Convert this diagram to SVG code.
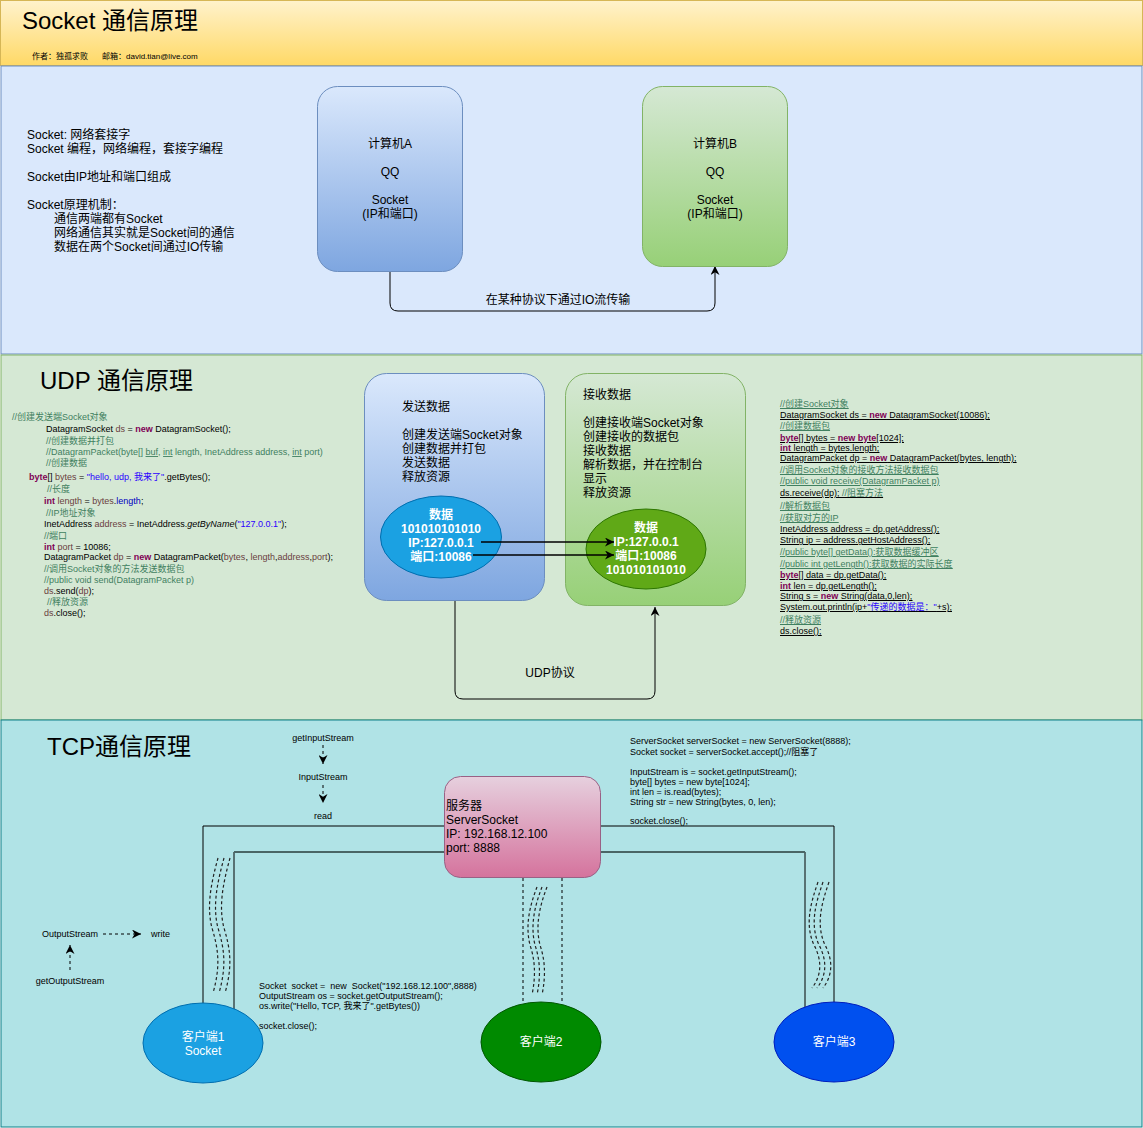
<svg xmlns="http://www.w3.org/2000/svg" width="1143" height="1128" viewBox="0 0 1143 1128">
<style>
text{font-family:"Liberation Sans","Noto Sans CJK SC",sans-serif;fill:#000}
.t12{font-size:12px}
.t9{font-size:9px}
.t8{font-size:8px}
.mid{text-anchor:middle}
.w{fill:#fff}
.b{font-weight:bold}
.c{fill:#3f7f5f}
.k{fill:#7f0055;font-weight:bold}
.s{fill:#2a00ff}
.v{fill:#6a3e3e}
.f{fill:#0000c0}
.u{text-decoration:underline}
.ln{fill:none;stroke:#000;stroke-width:1}
.dash{fill:none;stroke:#000;stroke-width:1;stroke-dasharray:3 3}
.wave{fill:none;stroke:#222;stroke-width:1.2;stroke-dasharray:3 2.5}
</style>
<defs>
<linearGradient id="gHead" x1="0" y1="0" x2="0" y2="1"><stop offset="0" stop-color="#fff2cc"/><stop offset="1" stop-color="#ffd966"/></linearGradient>
<linearGradient id="gBlue" x1="0" y1="0" x2="0" y2="1"><stop offset="0" stop-color="#dae8fc"/><stop offset="1" stop-color="#7ea6e0"/></linearGradient>
<linearGradient id="gGreen" x1="0" y1="0" x2="0" y2="1"><stop offset="0" stop-color="#d5e8d4"/><stop offset="1" stop-color="#97d077"/></linearGradient>
<linearGradient id="gPink" x1="0" y1="0" x2="0" y2="1"><stop offset="0" stop-color="#e6d0de"/><stop offset="1" stop-color="#d5739d"/></linearGradient>
<marker id="arr" viewBox="0 0 10 10" refX="10" refY="5" markerWidth="9" markerHeight="9" markerUnits="userSpaceOnUse" orient="auto"><path d="M0,0 L10,5 L0,10 L3,5 z" fill="#000"/></marker>
</defs>

<!-- sections -->
<g id="header">
<rect x="0.5" y="0.5" width="1142" height="65" fill="url(#gHead)" stroke="#d6b656"/>
<text x="22" y="29" style="font-size:24px">Socket 通信原理</text>
<text x="32" y="59" class="t8">作者：独孤求败</text>
<text x="102" y="59" class="t8">邮箱：david.tian@live.com</text>
</g>
<g id="sec-socket">
<rect x="1" y="66" width="1141" height="288" fill="#dae8fc" stroke="#6c8ebf"/>
<text class="t12" x="27" y="139">Socket: 网络套接字</text>
<text class="t12" x="27" y="153">Socket 编程，网络编程，套接字编程</text>
<text class="t12" x="27" y="181">Socket由IP地址和端口组成</text>
<text class="t12" x="27" y="209">Socket原理机制：</text>
<text class="t12" x="54" y="223">通信两端都有Socket</text>
<text class="t12" x="54" y="237">网络通信其实就是Socket间的通信</text>
<text class="t12" x="54" y="251">数据在两个Socket间通过IO传输</text>
</g>
<g id="sec-udp">
<rect x="1" y="355" width="1141" height="365" fill="#d5e8d4" stroke="#82b366"/>
<text x="40" y="389" style="font-size:24px">UDP 通信原理</text>
</g>
<g id="sec-tcp">
<rect x="1" y="720" width="1141" height="407" fill="#b0e3e6" stroke="#0e8088"/>
<text x="47" y="755" style="font-size:24px">TCP通信原理</text>
</g>

<!-- connectors -->
<g id="connectors">
<path class="ln" d="M390,271 V303 Q390,311 398,311 H707 Q715,311 715,303 V266" marker-end="url(#arr)"/>
<text class="t12 mid" x="558" y="304">在某种协议下通过IO流传输</text>
<path class="ln" d="M455,601 V691 Q455,699 463,699 H647 Q655,699 655,691 V607" marker-end="url(#arr)"/>
<text class="t12 mid" x="550" y="677">UDP协议</text>
<path class="dash" d="M323,745 V764" marker-end="url(#arr)"/>
<path class="dash" d="M323,785 V803" marker-end="url(#arr)"/>
<path class="dash" d="M103,934 H141" marker-end="url(#arr)"/>
<path class="dash" d="M70,970 V945" marker-end="url(#arr)"/>
<path class="ln" d="M203,1012 V826 H834 V1010"/>
<path class="ln" d="M234,1015 V852"/>
<path class="ln" d="M805,1015 V852"/>
<path d="M234,852 H805" fill="none" stroke="#4a6666" stroke-width="1.8"/>
<path class="dash" d="M523,878 V1003"/>
<path class="dash" d="M562,878 V1003"/>
<g id="waves">
<path class="wave" d="M218,858 C212,880 206,905 212,928 C218,948 221,965 213,993"/>
<path class="wave" d="M224,858 C218,880 212,905 218,928 C224,948 227,965 219,993"/>
<path class="wave" d="M230,858 C224,880 218,905 224,928 C230,948 233,965 225,993"/>
<path class="wave" d="M537,887 C530,905 525,925 530,945 C535,960 536,975 532,995"/>
<path class="wave" d="M542,887 C535,905 530,925 535,945 C540,960 541,975 537,995"/>
<path class="wave" d="M547,887 C540,905 535,925 540,945 C545,960 546,975 542,995"/>
<path class="wave" d="M818,882 C810,905 805,925 814,945 C822,960 822,975 812,988"/>
<path class="wave" d="M823,882 C815,905 810,925 819,945 C827,960 827,975 817,988"/>
<path class="wave" d="M829,882 C821,905 816,925 825,945 C833,960 833,975 823,988"/>
</g>
</g>

<!-- Section 1 nodes -->
<g id="computerA">
<rect x="317.5" y="86.5" width="145" height="185" rx="20" fill="url(#gBlue)" stroke="#6c8ebf"/>
<text class="t12 mid" x="390" y="148">计算机A</text>
<text class="t12 mid" x="390" y="176">QQ</text>
<text class="t12 mid" x="390" y="204">Socket</text>
<text class="t12 mid" x="390" y="218">(IP和端口)</text>
</g>
<g id="computerB">
<rect x="642.5" y="86.5" width="145" height="180" rx="20" fill="url(#gGreen)" stroke="#82b366"/>
<text class="t12 mid" x="715" y="148">计算机B</text>
<text class="t12 mid" x="715" y="176">QQ</text>
<text class="t12 mid" x="715" y="204">Socket</text>
<text class="t12 mid" x="715" y="218">(IP和端口)</text>
</g>

<!-- UDP -->
<g id="udp-code-send" class="t9">
<text x="12" y="420" class="c">//创建发送端Socket对象</text>
<text x="46" y="432">DatagramSocket <tspan class="v">ds</tspan> = <tspan class="k">new</tspan> DatagramSocket();</text>
<text x="46" y="444" class="c">//创建数据并打包</text>
<text x="46" y="455" class="c">//DatagramPacket(byte[] <tspan class="u">buf</tspan>, <tspan class="u">int</tspan> length, InetAddress address, <tspan class="u">int</tspan> port)</text>
<text x="46" y="466" class="c">//创建数据</text>
<text x="29" y="480"><tspan class="k">byte</tspan>[] <tspan class="v">bytes</tspan> = <tspan class="s">"hello, udp, 我来了"</tspan>.getBytes();</text>
<text x="47" y="492" class="c">//长度</text>
<text x="44" y="504"><tspan class="k">int</tspan> <tspan class="v">length</tspan> = <tspan class="v">bytes</tspan>.<tspan class="f">length</tspan>;</text>
<text x="46" y="516" class="c">//IP地址对象</text>
<text x="44" y="527">InetAddress <tspan class="v">address</tspan> = InetAddress.<tspan font-style="italic">getByName</tspan>(<tspan class="s">"127.0.0.1"</tspan>);</text>
<text x="44" y="539" class="c">//端口</text>
<text x="44" y="550"><tspan class="k">int</tspan> <tspan class="v">port</tspan> = 10086;</text>
<text x="44" y="560">DatagramPacket <tspan class="v">dp</tspan> = <tspan class="k">new</tspan> DatagramPacket(<tspan class="v">bytes</tspan>, <tspan class="v">length</tspan>,<tspan class="v">address</tspan>,<tspan class="v">port</tspan>);</text>
<text x="44" y="572" class="c">//调用Socket对象的方法发送数据包</text>
<text x="44" y="583" class="c">//public void send(DatagramPacket p)</text>
<text x="44" y="594"><tspan class="v">ds</tspan>.send(<tspan class="v">dp</tspan>);</text>
<text x="47" y="605" class="c">//释放资源</text>
<text x="44" y="616"><tspan class="v">ds</tspan>.close();</text>
</g>

<g id="udp-code-recv" class="t9 u">
<text x="780" y="407" class="c u">//创建Socket对象</text>
<text x="780" y="418" class="u">DatagramSocket ds = <tspan class="k">new</tspan> DatagramSocket(10086);</text>
<text x="780" y="429" class="c u">//创建数据包</text>
<text x="780" y="441" class="u"><tspan class="k">byte</tspan>[] bytes = <tspan class="k">new</tspan> <tspan class="k">byte</tspan>[1024];</text>
<text x="780" y="451" class="u"><tspan class="k">int</tspan> length = bytes.length;</text>
<text x="780" y="461" class="u">DatagramPacket dp = <tspan class="k">new</tspan> DatagramPacket(bytes, length);</text>
<text x="780" y="473" class="c u">//调用Socket对象的接收方法接收数据包</text>
<text x="780" y="484" class="c u">//public void receive(DatagramPacket p)</text>
<text x="780" y="496" class="u">ds.receive(dp); <tspan class="c">//阻塞方法</tspan></text>
<text x="780" y="509" class="c u">//解析数据包</text>
<text x="780" y="521" class="c u">//获取对方的IP</text>
<text x="780" y="532" class="u">InetAddress address = dp.getAddress();</text>
<text x="780" y="543" class="u">String ip = address.getHostAddress();</text>
<text x="780" y="555" class="c u">//public byte[] getData():获取数据缓冲区</text>
<text x="780" y="567" class="c u">//public int getLength():获取数据的实际长度</text>
<text x="780" y="578" class="u"><tspan class="k">byte</tspan>[] data = dp.getData();</text>
<text x="780" y="589" class="u"><tspan class="k">int</tspan> len = dp.getLength();</text>
<text x="780" y="599" class="u">String s = <tspan class="k">new</tspan> String(data,0,len);</text>
<text x="780" y="610" class="u">System.out.println(ip+<tspan class="s">"传递的数据是："</tspan>+s);</text>
<text x="780" y="623" class="c u">//释放资源</text>
<text x="780" y="634" class="u">ds.close();</text>
</g>

<g id="sender">
<rect x="364.5" y="373.5" width="180" height="227" rx="22" fill="url(#gBlue)" stroke="#6c8ebf"/>
<text class="t12" x="402" y="411">发送数据</text>
<text class="t12" x="402" y="439">创建发送端Socket对象</text>
<text class="t12" x="402" y="453">创建数据并打包</text>
<text class="t12" x="402" y="467">发送数据</text>
<text class="t12" x="402" y="481">释放资源</text>
</g>
<g id="receiver">
<rect x="565.5" y="373.5" width="180" height="232" rx="22" fill="url(#gGreen)" stroke="#82b366"/>
<text class="t12" x="583" y="399">接收数据</text>
<text class="t12" x="583" y="427">创建接收端Socket对象</text>
<text class="t12" x="583" y="441">创建接收的数据包</text>
<text class="t12" x="583" y="455">接收数据</text>
<text class="t12" x="583" y="469">解析数据，并在控制台</text>
<text class="t12" x="583" y="483">显示</text>
<text class="t12" x="583" y="497">释放资源</text>
</g>
<g id="data-send">
<ellipse cx="441" cy="537" rx="60.5" ry="41" fill="#1ba1e2" stroke="#006eaf"/>
<text class="t12 mid w b" x="441" y="519">数据</text>
<text class="t12 mid w b" x="441" y="533">101010101010</text>
<text class="t12 mid w b" x="441" y="547">IP:127.0.0.1</text>
<text class="t12 mid w b" x="441" y="561">端口:10086</text>
</g>
<g id="data-recv">
<ellipse cx="646" cy="549" rx="60" ry="40" fill="#60a917" stroke="#2d7600"/>
<text class="t12 mid w b" x="646" y="532">数据</text>
<text class="t12 mid w b" x="646" y="546">IP:127.0.0.1</text>
<text class="t12 mid w b" x="646" y="560">端口:10086</text>
<text class="t12 mid w b" x="646" y="574">101010101010</text>
</g>
<g id="udp-arrows">
<path d="M481,542 H614" fill="none" stroke="#000" stroke-width="1.5" marker-end="url(#arr)"/>
<path d="M473,555 H614" fill="none" stroke="#000" stroke-width="1.5" marker-end="url(#arr)"/>
</g>

<!-- TCP -->
<g id="tcp-labels" class="t9">
<text class="mid" x="323" y="741">getInputStream</text>
<text class="mid" x="323" y="780">InputStream</text>
<text class="mid" x="323" y="819">read</text>
<text class="mid" x="70" y="937">OutputStream</text>
<text x="151" y="937">write</text>
<text class="mid" x="70" y="984">getOutputStream</text>
</g>
<g id="tcp-code-server" class="t9">
<text x="630" y="744">ServerSocket serverSocket = new ServerSocket(8888);</text>
<text x="630" y="755">Socket socket = serverSocket.accept();//阻塞了</text>
<text x="630" y="775">InputStream is = socket.getInputStream();</text>
<text x="630" y="785">byte[] bytes = new byte[1024];</text>
<text x="630" y="795">int len = is.read(bytes);</text>
<text x="630" y="805">String str = new String(bytes, 0, len);</text>
<text x="630" y="824">socket.close();</text>
</g>
<g id="tcp-code-client" class="t9">
<text x="259" y="989" xml:space="preserve">Socket  socket =  new  Socket("192.168.12.100",8888)</text>
<text x="259" y="999">OutputStream os = socket.getOutputStream();</text>
<text x="259" y="1009">os.write("Hello, TCP, 我来了".getBytes())</text>
<text x="259" y="1029">socket.close();</text>
</g>
<g id="server">
<rect x="444.5" y="776.5" width="156" height="101" rx="16" fill="url(#gPink)" stroke="#996185"/>
<text class="t12" x="446" y="810">服务器</text>
<text class="t12" x="446" y="824">ServerSocket</text>
<text class="t12" x="446" y="838">IP: 192.168.12.100</text>
<text class="t12" x="446" y="852">port: 8888</text>
</g>
<g id="client1">
<ellipse cx="203" cy="1043" rx="60" ry="40" fill="#1ba1e2" stroke="#006eaf"/>
<text class="t12 mid w" x="203" y="1041">客户端1</text>
<text class="t12 mid w" x="203" y="1055">Socket</text>
</g>
<g id="client2">
<ellipse cx="541" cy="1042" rx="60" ry="40" fill="#008a00" stroke="#005700"/>
<text class="t12 mid w" x="541" y="1046">客户端2</text>
</g>
<g id="client3">
<ellipse cx="834" cy="1042" rx="60" ry="40" fill="#0050ef" stroke="#001dbc"/>
<text class="t12 mid w" x="834" y="1046">客户端3</text>
</g>
</svg>
